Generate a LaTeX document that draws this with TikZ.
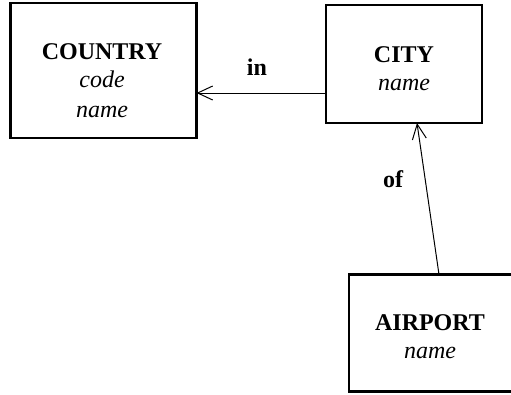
\documentclass[tikz,border=0pt]{standalone}
\usepackage{fontspec}
\setmainfont{Liberation Serif}
\usetikzlibrary{arrows.meta}
\begin{document}
\begin{tikzpicture}[x=1pt,y=-1pt,
  entity/.style={draw, line width=2.4pt, rectangle, inner sep=0pt, outer sep=0pt},
  title/.style={font=\fontsize{24}{29}\selectfont\bfseries, anchor=base, inner sep=0pt},
  attr/.style={font=\fontsize{24}{29}\selectfont\itshape, anchor=base, inner sep=0pt},
  rel/.style={font=\fontsize{24}{29}\selectfont\bfseries, anchor=base, inner sep=0pt},
  link/.style={line width=1pt, -{Straight Barb[length=15pt,width=14pt,line width=1pt]}}]
  \useasboundingbox (0,0) rectangle (511,394);
  \clip (0,0) rectangle (511,394);

  % entity boxes
  \node[entity, minimum width=186pt, minimum height=135pt] (country) at (103.5,70.5) {};
  \node[entity, minimum width=156pt, minimum height=118pt] (city) at (404,64) {};
  \node[entity, minimum width=166pt, minimum height=117pt] (airport) at (432,333) {};

  % entity names and attributes
  \node[title] (countryname) at (102,59) {COUNTRY};
  \node[attr] (countrycode) at (102,87) {code};
  \node[attr] (countryattr) at (102,117) {name};

  \node[title] (cityname) at (404,62) {CITY};
  \node[attr] (cityattr) at (404,90) {name};

  \node[title] (airportname) at (430,330) {AIRPORT};
  \node[attr] (airportattr) at (430,358) {name};

  % relationships
  \draw[link] (city.west |- 0,93) -- (country.east |- 0,93);
  \node[rel] (inlabel) at (257,75) {in};

  \draw[link] ([xshift=7pt]airport.north) -- ([xshift=13pt]city.south);
  \node[rel] (oflabel) at (393,187) {of};
\end{tikzpicture}
\end{document}
